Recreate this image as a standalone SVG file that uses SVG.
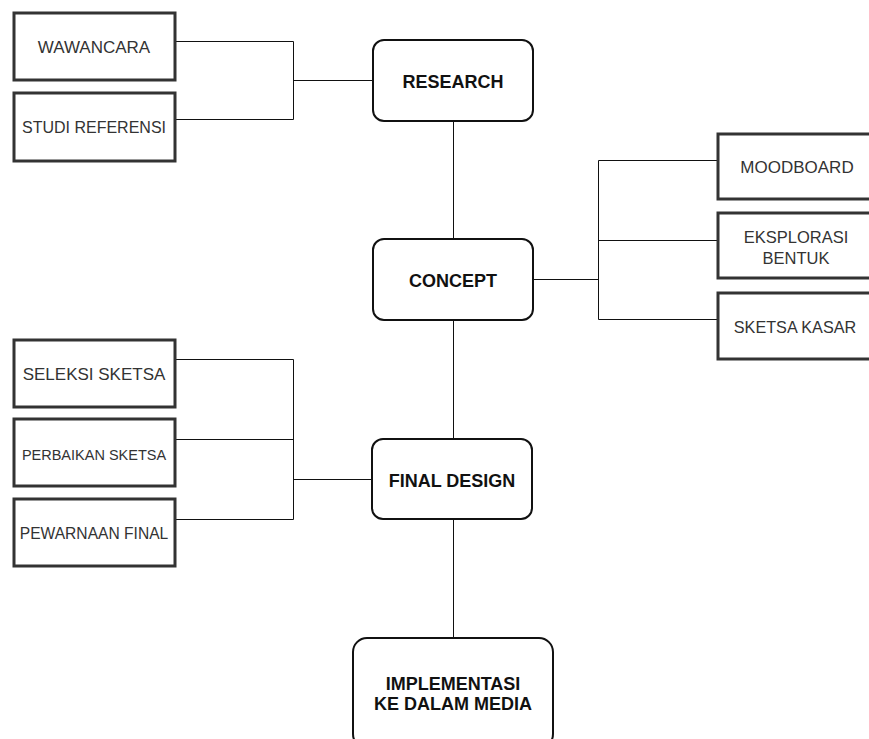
<svg xmlns="http://www.w3.org/2000/svg" width="869" height="739" viewBox="0 0 869 739">
<style>
.box{fill:#fff;stroke:#333;stroke-width:3}
.rbox{fill:#fff;stroke:#111;stroke-width:2}
.t{font-family:"Liberation Sans",Arial,sans-serif;fill:#333;text-anchor:middle}
.b{font-family:"Liberation Sans",Arial,sans-serif;font-weight:bold;font-size:18px;fill:#111;text-anchor:middle}
.c{fill:none;stroke:#111;stroke-width:1}
</style>
<rect width="869" height="739" fill="#fff"/>
<g id="connectors">
<path class="c" d="M175 41.5H293.5V119.5H175M293.5 80.5H373"/>
<path class="c" d="M175 359.5H293.5V519.5H175M175 439.5H293.5M293.5 479.5H372"/>
<path class="c" d="M718 160.5H598.5V319.5H718M598.5 240.5H718M533 279.5H598.5"/>
<path class="c" d="M453.5 121V239M453.5 320V439M453.5 519V638"/>
</g>
<g id="wawancara"><rect class="box" x="14" y="13" width="161" height="67"/><text class="t" x="94" y="53" font-size="17">WAWANCARA</text></g>
<g id="studi"><rect class="box" x="14" y="93" width="161" height="68"/><text class="t" x="94" y="133" font-size="16">STUDI REFERENSI</text></g>
<g id="research"><rect class="rbox" x="373" y="40" width="160" height="81" rx="11"/><text class="b" x="453" y="88">RESEARCH</text></g>
<g id="concept"><rect class="rbox" x="373" y="239" width="160" height="81" rx="11"/><text class="b" x="453" y="287">CONCEPT</text></g>
<g id="moodboard"><rect class="box" x="718" y="134" width="160" height="65"/><text class="t" x="797" y="173" font-size="17">MOODBOARD</text></g>
<g id="eksplorasi"><rect class="box" x="718" y="213" width="160" height="65"/><text class="t" x="796" y="243" font-size="16.5">EKSPLORASI</text><text class="t" x="796" y="264" font-size="16.5">BENTUK</text></g>
<g id="sketsa-kasar"><rect class="box" x="718" y="293" width="160" height="66"/><text class="t" x="795" y="333" font-size="16.2">SKETSA KASAR</text></g>
<g id="seleksi"><rect class="box" x="14" y="340" width="161" height="67"/><text class="t" x="94" y="380" font-size="17">SELEKSI SKETSA</text></g>
<g id="perbaikan"><rect class="box" x="14" y="419" width="161" height="67"/><text class="t" x="94" y="460" font-size="14.5">PERBAIKAN SKETSA</text></g>
<g id="pewarnaan"><rect class="box" x="14" y="499" width="161" height="67"/><text class="t" x="94" y="539" font-size="15.6">PEWARNAAN FINAL</text></g>
<g id="final-design"><rect class="rbox" x="372" y="439" width="160" height="80" rx="11"/><text class="b" x="452" y="487">FINAL DESIGN</text></g>
<g id="implementasi"><rect class="rbox" x="353" y="638" width="200" height="110" rx="14"/><text class="b" x="453" y="690">IMPLEMENTASI</text><text class="b" x="453" y="710">KE DALAM MEDIA</text></g>
</svg>
